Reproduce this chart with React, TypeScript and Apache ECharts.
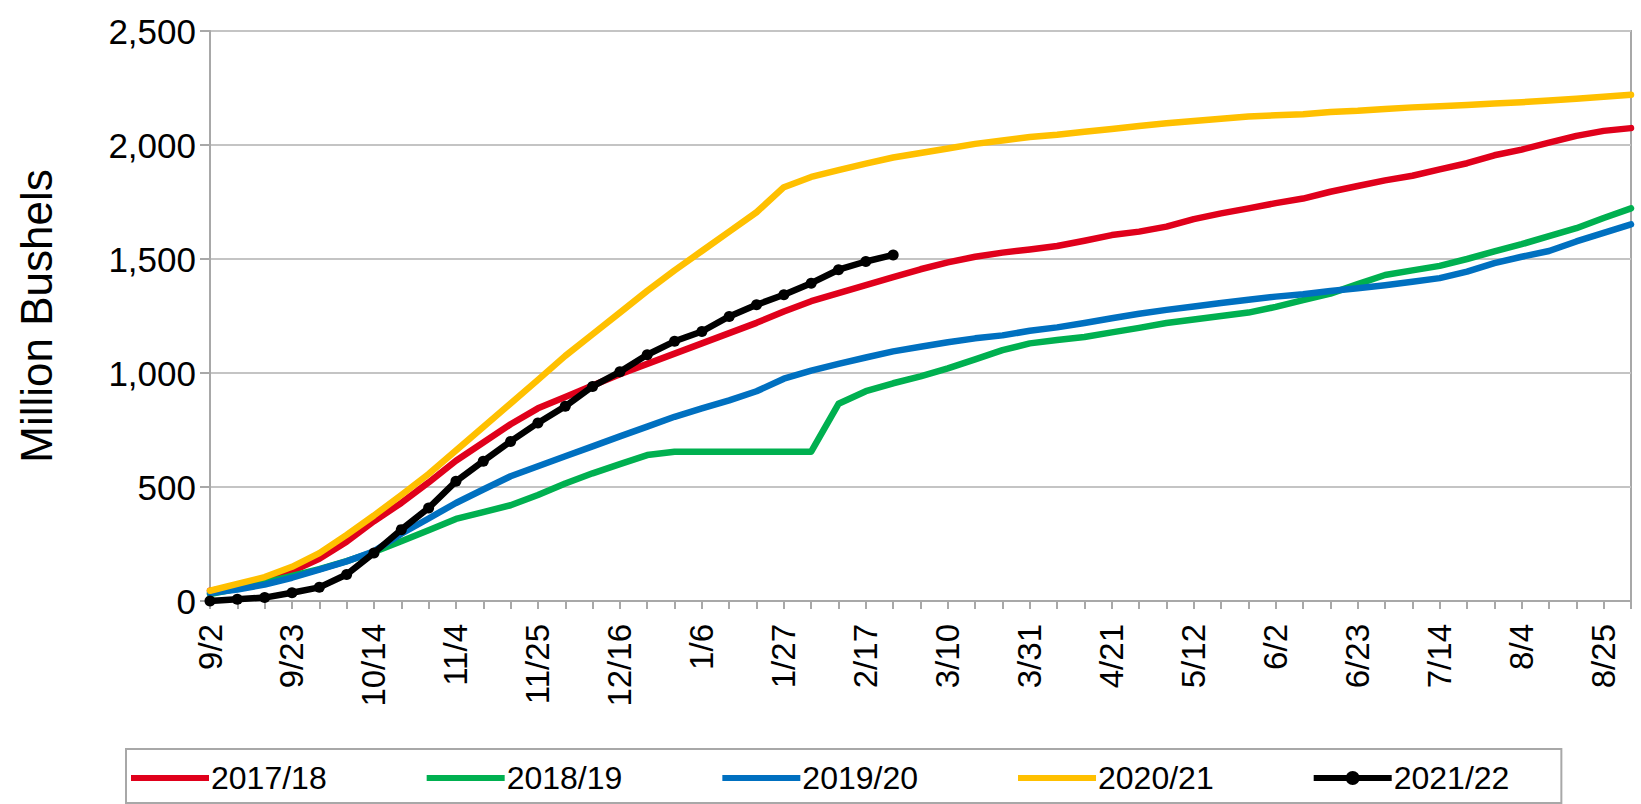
import React, { useEffect, useRef } from "react";
import * as echarts from "echarts";

const weeks = ["9/2","9/9","9/16","9/23","9/30","10/7","10/14","10/21","10/28","11/4","11/11","11/18","11/25","12/2","12/9","12/16","12/23","12/30","1/6","1/13","1/20","1/27","2/3","2/10","2/17","2/24","3/3","3/10","3/17","3/24","3/31","4/7","4/14","4/21","4/28","5/5","5/12","5/19","5/26","6/2","6/9","6/16","6/23","6/30","7/7","7/14","7/21","7/28","8/4","8/11","8/18","8/25","9/1"];

const seriesNames = ["2017/18", "2018/19", "2019/20", "2020/21", "2021/22"];
const seriesColors = ["#E0001B", "#00B050", "#0070C0", "#FFC000", "#000000"];

const y2017 = [45,62,90,130,185,260,350,430,520,615,695,775,845,895,945,995,1040,1085,1130,1175,1220,1270,1315,1350,1385,1420,1455,1485,1510,1528,1542,1557,1580,1605,1620,1642,1675,1700,1722,1745,1765,1795,1820,1845,1865,1893,1920,1955,1980,2010,2040,2062,2074];
const y2018 = [30,55,80,110,140,175,215,262,310,360,390,420,465,515,560,600,640,655,655,655,655,655,655,865,920,955,985,1020,1060,1100,1130,1145,1158,1178,1198,1219,1235,1250,1265,1290,1320,1348,1390,1430,1450,1470,1500,1533,1565,1600,1635,1680,1722];
const y2019 = [35,50,72,102,138,174,218,295,362,430,489,547,591,635,678,722,765,808,845,880,920,975,1010,1040,1068,1095,1115,1135,1152,1165,1185,1200,1219,1240,1260,1277,1292,1307,1321,1335,1345,1360,1372,1385,1400,1416,1445,1482,1510,1535,1577,1615,1652];
const y2020 = [45,75,105,150,210,290,375,465,557,660,763,866,970,1075,1170,1265,1360,1450,1535,1620,1705,1815,1860,1890,1918,1945,1965,1985,2005,2020,2035,2045,2058,2070,2083,2095,2105,2115,2125,2130,2135,2145,2150,2158,2165,2170,2175,2182,2188,2195,2203,2212,2220];
const y2021 = [0,8,15,36,60,116,211,313,408,525,613,700,781,854,941,1005,1080,1139,1182,1248,1299,1343,1394,1453,1489,1518];

const yTicks = { min: 0, max: 2500, interval: 500 };

const FONT = '"Liberation Sans", Arial, sans-serif';
const ICON_LINE = "path://M0,4H78V10H0Z";
const ICON_LINE_DOT = "path://M0,4H78V10H0Z M32,7A7,7 0 1,1 46,7A7,7 0 1,1 32,7Z";

export default function App() {
  const ref = useRef<HTMLDivElement>(null);
  useEffect(() => {
    document.body.style.margin = "0";
    const chart = echarts.init(ref.current!, null, { renderer: "svg" });
    const values = [y2017, y2018, y2019, y2020, y2021];
    const series = values.map((d, k) => {
      const isCurrent = k === 4;
      return {
        name: seriesNames[k],
        type: "line",
        data: d,
        symbol: isCurrent ? "circle" : "none",
        symbolSize: isCurrent ? 11 : 0,
        showSymbol: isCurrent,
        lineStyle: { color: seriesColors[k], width: 6.5, join: "round", cap: "round" },
        itemStyle: { color: seriesColors[k] },
        z: 2 + k,
      };
    });
    chart.setOption({
      animation: false,
      backgroundColor: "#ffffff",
      textStyle: { fontFamily: FONT },
      grid: {
        left: 210,
        right: 10,
        top: 31,
        bottom: 203,
        show: true,
        borderColor: "#a8a8a8",
        borderWidth: 2,
        backgroundColor: "transparent",
      },
      legend: {
        data: seriesNames.map((n, k) => ({ name: n, icon: k === 4 ? ICON_LINE_DOT : ICON_LINE })),
        left: 126,
        top: 749,
        padding: [13, 52, 9, 5],
        itemWidth: 78,
        itemHeight: 14,
        itemGap: 100,
        borderColor: "#a8a8a8",
        borderWidth: 2,
        textStyle: { fontSize: 32, color: "#000", fontFamily: FONT, padding: [0, 0, 0, -3] },
      },
      xAxis: {
        type: "category",
        data: weeks,
        boundaryGap: false,
        axisLine: { lineStyle: { color: "#a8a8a8", width: 2 } },
        axisTick: { show: true, interval: 0, length: 8, lineStyle: { color: "#a8a8a8", width: 2 } },
        axisLabel: { interval: 2, rotate: 90, fontSize: 33, color: "#000", fontFamily: FONT, margin: 23 },
        splitLine: { show: false },
      },
      yAxis: {
        type: "value",
        min: yTicks.min,
        max: yTicks.max,
        interval: yTicks.interval,
        name: "Million Bushels",
        nameLocation: "middle",
        nameGap: 152,
        nameTextStyle: { fontSize: 44, color: "#000", fontFamily: FONT },
        axisLine: { show: true, lineStyle: { color: "#a8a8a8", width: 2 } },
        axisTick: { show: true, length: 10, lineStyle: { color: "#a8a8a8", width: 2 } },
        axisLabel: {
          fontSize: 35,
          color: "#000",
          fontFamily: FONT,
          margin: 14,
          formatter: (v: number) => v.toLocaleString("en-US"),
        },
        splitLine: { show: true, lineStyle: { color: "#c4c4c4", width: 2 } },
      },
      series,
    });
    return () => chart.dispose();
  }, []);
  return <div ref={ref} style={{ position: "fixed", left: 0, top: 0, width: 1641, height: 804 }} />;
}
